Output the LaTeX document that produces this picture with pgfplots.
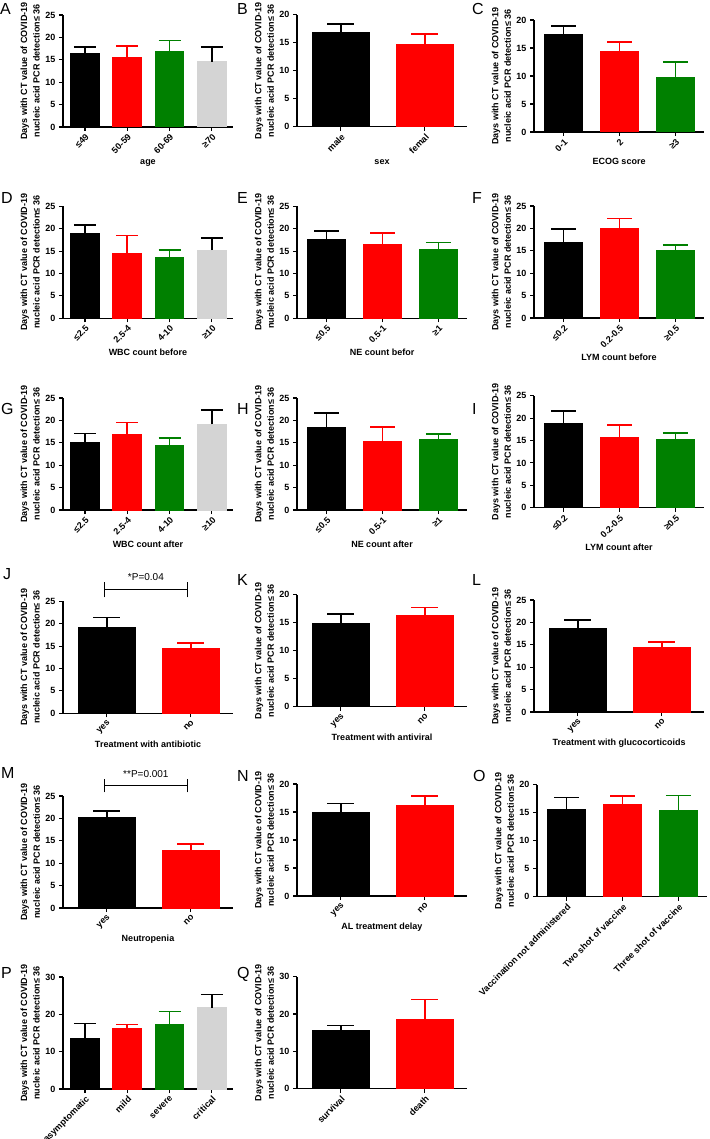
\documentclass[border=0pt]{standalone}
\usepackage{fontspec}
\setmainfont{Liberation Sans}
\usepackage{pgfplots}
\pgfplotsset{compat=1.18}
\definecolor{gpred}{RGB}{255,0,0}
\definecolor{gpgreen}{RGB}{0,128,0}
\definecolor{gpgray}{RGB}{212,212,212}
\pgfplotsset{
  gp/.style={
    scale only axis, anchor=south west,
    width=170pt, height=112pt,
    axis x line*=bottom, axis y line*=left,
    axis line style={line width=1.1pt},
    ymin=0, enlargelimits=false, clip=false,
    tick align=outside, major tick length=4pt,
    tick style={line width=1.1pt, black},
    ybar, bar width=0.68, bar shift=0pt,
    /pgf/number format/assume math mode=true,
    tick label style={font=\bfseries\fontsize{9}{10.5}\selectfont},
    xticklabel style={rotate=45, anchor=north east, inner sep=1.5pt},
    xlabel style={font=\bfseries\fontsize{9}{11}\selectfont},
    ylabel={Days with CT value of COVID-19\\nucleic acid PCR detection≤ 36},
    ylabel style={font=\bfseries\fontsize{9}{12.5}\selectfont, align=center,
      at={(axis description cs:-0.135,0.5)}, anchor=south, inner sep=0pt},
    error bars/y dir=plus, error bars/y explicit,
  },
  gp2/.style={gp, xmin=-0.52, xmax=1.5, xtick={0,1}, /utils/exec={\gdef\capsize{13.5pt}}},
  gp3/.style={gp, xmin=-0.53, xmax=2.51, xtick={0,1,2}, /utils/exec={\gdef\capsize{12.5pt}}},
  gp4/.style={gp, xmin=-0.52, xmax=3.5, xtick={0,1,2,3}, /utils/exec={\gdef\capsize{11pt}}},
}
\def\capsize{12pt}
% x, y, err, fill colour, error colour
\newcommand{\gb}[5]{%
  \addplot[fill=#4, draw=#4, line width=1pt,
    error bars/error bar style={line width=1.6pt, draw=#5},
    error bars/error mark options={rotate=90, mark size=\capsize, line width=1.6pt, draw=#5}]
    coordinates {(#1,#2) +- (0,#3)};}
\newcommand{\plab}[3]{\node[anchor=north west, inner sep=0pt, font=\fontsize{16}{16}\selectfont] at (#1pt,-#2pt) {#3};}
\begin{document}
\begin{tikzpicture}
\path[use as bounding box] (0,0) rectangle (709pt,-1139pt);
% ---------- row 1
\plab{0}{3}{A}\plab{237}{3}{B}\plab{472}{3}{C}
\begin{axis}[gp4, at={(63pt,-127pt)}, ymax=25, ytick={0,5,...,25},
  xticklabels={≤49,50-59,60-69,≥70}, xlabel={age}]
\gb{0}{16.3}{1.55}{black}{black}
\gb{1}{15.5}{2.6}{gpred}{gpred}
\gb{2}{16.95}{2.4}{gpgreen}{gpgreen}
\gb{3}{14.6}{3.25}{gpgray}{black}
\end{axis}
\begin{axis}[gp2, at={(297pt,-126.7pt)}, ymax=20, ytick={0,5,...,20},
  xticklabels={male,femal}, xlabel={sex}]
\gb{0}{16.8}{1.5}{black}{black}
\gb{1}{14.75}{1.75}{gpred}{gpred}
\end{axis}
\begin{axis}[gp3, at={(534pt,-132pt)}, ymax=20, ytick={0,5,...,20},
  xticklabels={0-1,2,≥3}, xlabel={ECOG score}]
\gb{0}{17.4}{1.5}{black}{black}
\gb{1}{14.4}{1.7}{gpred}{gpred}
\gb{2}{9.7}{2.85}{gpgreen}{gpgreen}
\end{axis}
% ---------- row 2
\plab{1}{192}{D}\plab{237}{192}{E}\plab{472}{192}{F}
\begin{axis}[gp4, at={(63pt,-318.3pt)}, ymax=25, ytick={0,5,...,25},
  xticklabels={≤2.5,2.5-4,4-10,≥10}, xlabel={WBC count before}]
\gb{0}{18.85}{1.95}{black}{black}
\gb{1}{14.4}{4.1}{gpred}{gpred}
\gb{2}{13.6}{1.6}{gpgreen}{gpgreen}
\gb{3}{15.2}{2.7}{gpgray}{black}
\end{axis}
\begin{axis}[gp3, at={(297pt,-318.3pt)}, ymax=25, ytick={0,5,...,25},
  xticklabels={≤0.5,0.5-1,≥1}, xlabel={NE count befor}]
\gb{0}{17.5}{2.0}{black}{black}
\gb{1}{16.4}{2.7}{gpred}{gpred}
\gb{2}{15.3}{1.6}{gpgreen}{gpgreen}
\end{axis}
\begin{axis}[gp3, at={(534pt,-318pt)}, ymax=25, ytick={0,5,...,25},
  xticklabels={≤0.2,0.2-0.5,≥0.5}, xlabel={LYM count before}]
\gb{0}{16.8}{3.0}{black}{black}
\gb{1}{19.9}{2.3}{gpred}{gpred}
\gb{2}{15.0}{1.3}{gpgreen}{gpgreen}
\end{axis}
% ---------- row 3
\plab{1}{403}{G}\plab{237}{403}{H}\plab{472}{403}{I}
\begin{axis}[gp4, at={(63pt,-510pt)}, ymax=25, ytick={0,5,...,25},
  xticklabels={≤2.5,2.5-4,4-10,≥10}, xlabel={WBC count after}]
\gb{0}{15.15}{1.95}{black}{black}
\gb{1}{16.9}{2.6}{gpred}{gpred}
\gb{2}{14.5}{1.6}{gpgreen}{gpgreen}
\gb{3}{19.1}{3.2}{gpgray}{black}
\end{axis}
\begin{axis}[gp3, at={(297pt,-510pt)}, ymax=25, ytick={0,5,...,25},
  xticklabels={≤0.5,0.5-1,≥1}, xlabel={NE count after}]
\gb{0}{18.5}{3.2}{black}{black}
\gb{1}{15.2}{3.3}{gpred}{gpred}
\gb{2}{15.7}{1.2}{gpgreen}{gpgreen}
\end{axis}
\begin{axis}[gp3, at={(534pt,-507.7pt)}, ymax=25, ytick={0,5,...,25},
  xticklabels={≤0.2,0.2-0.5,≥0.5}, xlabel={LYM count after}]
\gb{0}{18.8}{2.8}{black}{black}
\gb{1}{15.6}{2.8}{gpred}{gpred}
\gb{2}{15.3}{1.4}{gpgreen}{gpgreen}
\end{axis}
% ---------- row 4
\plab{3}{568}{J}\plab{237}{574}{K}\plab{472}{574}{L}
\begin{axis}[gp2, at={(63pt,-713.3pt)}, ymax=25, ytick={0,5,...,25},
  xticklabels={yes,no}, xlabel={Treatment with antibiotic}]
\gb{0}{19.25}{2.15}{black}{black}
\gb{1}{14.5}{1.25}{gpred}{gpred}
\draw[line width=1.3pt] (axis cs:-0.03,27.6) -- (axis cs:0.96,27.6);
\draw[line width=1.3pt] (axis cs:-0.03,25.9) -- (axis cs:-0.03,29.3);
\draw[line width=1.3pt] (axis cs:0.96,25.9) -- (axis cs:0.96,29.3);
\node[anchor=south, inner sep=1pt, font=\fontsize{10}{12}\selectfont] at (axis cs:0.465,29.4) {*P=0.04};
\end{axis}
\begin{axis}[gp2, at={(297pt,-706.7pt)}, ymax=20, ytick={0,5,...,20},
  xticklabels={yes,no}, xlabel={Treatment with antiviral}]
\gb{0}{14.85}{1.75}{black}{black}
\gb{1}{16.3}{1.4}{gpred}{gpred}
\end{axis}
\begin{axis}[gp2, at={(534pt,-712pt)}, ymax=25, ytick={0,5,...,25},
  xticklabels={yes,no}, xlabel={Treatment with glucocorticoids}]
\gb{0}{18.7}{1.8}{black}{black}
\gb{1}{14.3}{1.3}{gpred}{gpred}
\end{axis}
% ---------- row 5
\plab{1}{767}{M}\plab{237}{770}{N}\plab{473}{770}{O}
\begin{axis}[gp2, at={(63pt,-908pt)}, ymax=25, ytick={0,5,...,25},
  xticklabels={yes,no}, xlabel={Neutropenia}]
\gb{0}{20.1}{1.6}{black}{black}
\gb{1}{12.8}{1.5}{gpred}{gpred}
\draw[line width=1.3pt] (axis cs:-0.03,27.3) -- (axis cs:0.96,27.3);
\draw[line width=1.3pt] (axis cs:-0.03,25.8) -- (axis cs:-0.03,28.8);
\draw[line width=1.3pt] (axis cs:0.96,25.8) -- (axis cs:0.96,28.8);
\node[anchor=south, inner sep=1pt, font=\fontsize{10}{12}\selectfont] at (axis cs:0.465,28.9) {**P=0.001};
\end{axis}
\begin{axis}[gp2, at={(297pt,-896pt)}, ymax=20, ytick={0,5,...,20},
  xticklabels={yes,no}, xlabel={AL treatment delay}]
\gb{0}{14.9}{1.6}{black}{black}
\gb{1}{16.2}{1.7}{gpred}{gpred}
\end{axis}
\begin{axis}[gp3, at={(537pt,-896.7pt)}, ymax=20, ytick={0,5,...,20},
  xticklabels={Vaccination not administered,Two shot of vaccine,Three shot of vaccine}]
\gb{0}{15.5}{2.2}{black}{black}
\gb{1}{16.5}{1.5}{gpred}{gpred}
\gb{2}{15.4}{2.7}{gpgreen}{gpgreen}
\end{axis}
% ---------- row 6
\plab{1}{967}{P}\plab{237}{967}{Q}
\begin{axis}[gp4, at={(63pt,-1089pt)}, ymax=30, ytick={0,10,20,30},
  xticklabels={asymptomatic,mild,severe,critical}]
\gb{0}{13.4}{4.1}{black}{black}
\gb{1}{16.1}{1.2}{gpred}{gpred}
\gb{2}{17.3}{3.5}{gpgreen}{gpgreen}
\gb{3}{21.8}{3.5}{gpgray}{black}
\end{axis}
\begin{axis}[gp2, at={(297pt,-1088.7pt)}, ymax=30, ytick={0,10,20,30},
  xticklabels={survival,death}]
\gb{0}{15.7}{1.25}{black}{black}
\gb{1}{18.6}{5.3}{gpred}{gpred}
\end{axis}
\end{tikzpicture}
\end{document}
